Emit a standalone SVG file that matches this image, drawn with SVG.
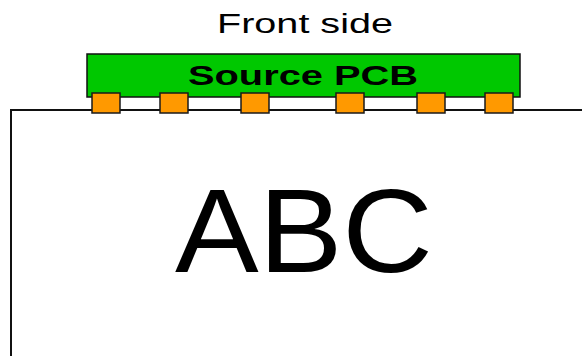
<svg xmlns="http://www.w3.org/2000/svg" width="582" height="356" viewBox="0 0 582 356">
<style>
.pad{fill:#ff9900;stroke:#1a1a1a;stroke-width:1.5}
.t{font-family:"Liberation Sans",Arial,sans-serif;fill:#000;text-anchor:middle}
</style>
<rect width="582" height="356" fill="#fff"/>
<g id="connectors">
<path d="M11,356 V110 H582" fill="none" stroke="#111" stroke-width="2"/>
</g>
<g id="title"><text class="t" x="305" y="33" font-size="27" textLength="176" lengthAdjust="spacingAndGlyphs">Front side</text></g>
<g id="pcb">
<rect x="87" y="54" width="433" height="43" fill="#00c800" stroke="#111" stroke-width="1.5"/>
<text class="t" x="303" y="85" font-size="27" font-weight="bold" textLength="230" lengthAdjust="spacingAndGlyphs">Source PCB</text>
</g>
<g id="pads">
<rect class="pad" x="92" y="93" width="28" height="20"/>
<rect class="pad" x="160" y="93" width="28" height="20"/>
<rect class="pad" x="241" y="93" width="28" height="20"/>
<rect class="pad" x="336" y="93" width="28" height="20"/>
<rect class="pad" x="417" y="93" width="28" height="20"/>
<rect class="pad" x="485" y="93" width="28" height="20"/>
</g>
<g id="panel"><text class="t" x="304" y="272" font-size="118" textLength="258" lengthAdjust="spacingAndGlyphs">ABC</text></g>
</svg>
